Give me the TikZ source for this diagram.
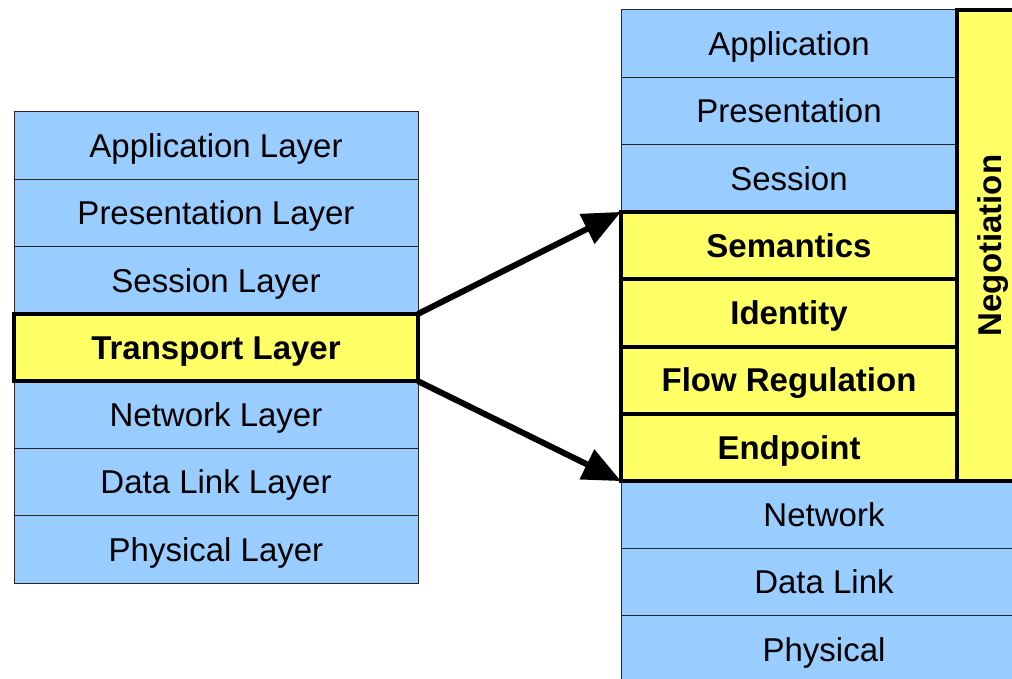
\documentclass[tikz,border=0pt]{standalone}
\usepackage{fontspec}
\setmainfont{Liberation Sans}
\usetikzlibrary{arrows.meta}
\definecolor{layerblue}{HTML}{99CCFF}
\definecolor{layeryellow}{HTML}{FFFF66}
\begin{document}
\begin{tikzpicture}[x=1pt,y=-1pt,
  rowbase/.style={inner sep=0pt, outer sep=0pt, minimum height=67.3pt,
    text height=23.6pt, text depth=0pt,
    font=\fontsize{33}{40}\selectfont},
  bluerow/.style={rowbase, draw=black!85, line width=1pt, fill=layerblue},
  yellowrow/.style={rowbase, draw=black, line width=4pt, fill=layeryellow,
    font=\fontsize{33}{40}\selectfont\bfseries},
  bigarrow/.style={line width=6pt, -{Triangle[length=38pt,width=32pt]}}
]
\useasboundingbox (0,0) rectangle (1012,679);
\clip (0,0) rectangle (1012,679);

% OSI model, left
\foreach \t [count=\i from 0] in {Application Layer,Presentation Layer,Session Layer,,Network Layer,Data Link Layer,Physical Layer}
  \node[bluerow, minimum width=404pt] (L\i) at (216,{112+67.3*(\i+0.5)}) {\t};
\node[yellowrow, minimum width=404pt] (T) at (216,{112+67.3*3.5}) {Transport Layer};

% refined stack, right: upper layers
\foreach \t [count=\i from 0] in {Application,Presentation,Session}
  \node[bluerow, minimum width=336pt] (R\i) at (789,{10+67.3*(\i+0.5)}) {\t};
% lower layers
\foreach \t [count=\i from 7] in {Network,Data Link,Physical}
  \node[bluerow, minimum width=406pt] (R\i) at (824,{10+67.3*(\i+0.5)}) {\t};
% transport sub-layers
\foreach \t [count=\i from 3] in {Semantics,Identity,Flow Regulation,Endpoint}
  \node[yellowrow, minimum width=336pt] (R\i) at (789,{10+67.3*(\i+0.5)}) {\t};
% negotiation column
\node[yellowrow, minimum width=66pt, minimum height=471.1pt] (N) at (990,245.55) {};
\node[rotate=90, inner sep=0pt, text height=23.6pt, text depth=0pt,
  font=\fontsize{33}{40}\selectfont\bfseries] (Nt) at (N.center) {Negotiation};
\draw[line width=4pt] (R6.south west) -- ([xshift=60pt]N.south east);

% expansion arrows
\draw[bigarrow] (T.north east) -- (R3.north west);
\draw[bigarrow] (T.south east) -- (R6.south west);
\end{tikzpicture}
\end{document}
